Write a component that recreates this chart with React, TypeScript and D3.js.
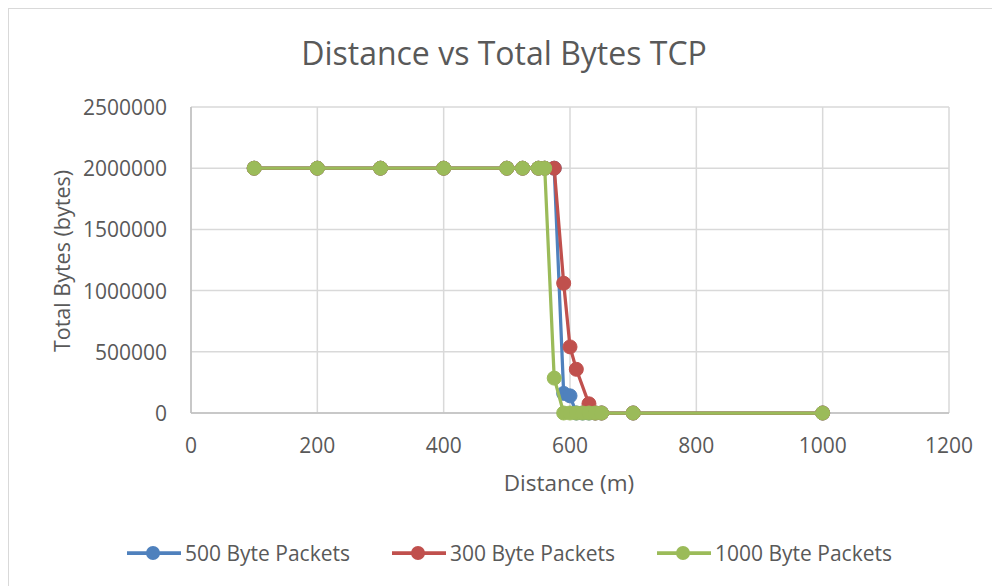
import React from 'react';
import * as d3 from 'd3';

// distances (m) shared by all three series; null = no sample at that distance
const distance = [100, 200, 300, 400, 500, 525, 550, 560, 575, 590, 600, 610, 620, 630, 640, 650, 700, 1000];
const bytes500 = [2000000, 2000000, 2000000, 2000000, 2000000, 2000000, 2000000, 2000000, 2000000, 160000, 140000, 0, 0, 0, 0, 0, 0, 0];
const bytes300 = [2000000, 2000000, 2000000, 2000000, 2000000, 2000000, 2000000, 2000000, 2000000, 1060000, 540000, 357000, null, 75000, 0, 0, 0, 0];
const bytes1000 = [2000000, 2000000, 2000000, 2000000, 2000000, 2000000, 2000000, 2000000, 285000, 0, 0, 0, 0, 0, 0, 0, 0, 0];

const seriesNames = ['500 Byte Packets', '300 Byte Packets', '1000 Byte Packets'];
const seriesColors = ['#4f81bd', '#c0504d', '#9bbb59'];
const xTicks = [0, 200, 400, 600, 800, 1000, 1200];
const yTicks = [0, 500000, 1000000, 1500000, 2000000, 2500000];

const FONT = '"Open Sans", sans-serif';
const TEXT = '#595959';
const GRID = '#d9d9d9';

const App = () => {
  const width = 992;
  const height = 586;
  const plot = { left: 191, right: 949, top: 107, bottom: 413 };

  const x = d3.scaleLinear().domain([0, 1200]).range([plot.left, plot.right]);
  const y = d3.scaleLinear().domain([0, 2500000]).range([plot.bottom, plot.top]);

  const allSeries = [bytes500, bytes300, bytes1000].map((vals, i) => ({
    name: seriesNames[i],
    color: seriesColors[i],
    points: distance
      .map((d, j) => ({ d, v: vals[j] }))
      .filter(p => p.v !== null) as { d: number; v: number }[],
  }));

  const line = d3.line<{ d: number; v: number }>()
    .x(p => x(p.d))
    .y(p => y(p.v));

  // legend item positions (line start)
  const legendX = [127, 392, 657];
  const legendY = 553;

  return (
    <svg
      width={width}
      height={height}
      style={{ position: 'absolute', left: 0, top: 0, background: '#fff' }}
      fontFamily={FONT}
    >
      <rect x={8.5} y={8.5} width={1000} height={600} fill="#fff" stroke={GRID} />

      <text x={504} y={52} textAnchor="middle" dominantBaseline="central" fontSize={32} fill={TEXT}>
        Distance vs Total Bytes TCP
      </text>

      {/* grid */}
      {yTicks.map(t => (
        <line key={'gy' + t} x1={plot.left} x2={plot.right} y1={y(t)} y2={y(t)} stroke={GRID} strokeWidth={1.5} />
      ))}
      {xTicks.map(t => (
        <line key={'gx' + t} x1={x(t)} x2={x(t)} y1={plot.top} y2={plot.bottom} stroke={GRID} strokeWidth={1.5} />
      ))}
      <line x1={plot.left} x2={plot.right} y1={plot.bottom} y2={plot.bottom} stroke="#bfbfbf" strokeWidth={1.5} />
      <line x1={plot.left} x2={plot.left} y1={plot.top} y2={plot.bottom} stroke="#bfbfbf" strokeWidth={1.5} />

      {/* tick labels */}
      {yTicks.map(t => (
        <text key={'ly' + t} x={167} y={y(t)} textAnchor="end" dominantBaseline="central" fontSize={21} fill={TEXT}>
          {t}
        </text>
      ))}
      {xTicks.map(t => (
        <text key={'lx' + t} x={x(t)} y={445} textAnchor="middle" dominantBaseline="central" fontSize={21} fill={TEXT}>
          {t}
        </text>
      ))}

      <text x={569} y={482} textAnchor="middle" dominantBaseline="central" fontSize={22.5} fill={TEXT}>
        Distance (m)
      </text>
      <text
        transform="translate(61,261) rotate(-90)"
        textAnchor="middle"
        dominantBaseline="central"
        fontSize={21.5}
        fill={TEXT}
      >
        Total Bytes (bytes)
      </text>

      {/* series */}
      {allSeries.map(s => (
        <g key={s.name}>
          <path d={line(s.points) || ''} fill="none" stroke={s.color} strokeWidth={3.25} strokeLinejoin="round" />
          {s.points.map((p, j) => (
            <circle key={j} cx={x(p.d)} cy={y(p.v)} r={7} fill={s.color} stroke={s.color} strokeWidth={1} />
          ))}
        </g>
      ))}

      {/* legend */}
      {allSeries.map((s, i) => (
        <g key={'lg' + s.name} transform={`translate(${legendX[i]},${legendY})`}>
          <line x1={0} x2={54} y1={0} y2={0} stroke={s.color} strokeWidth={3.75} />
          <circle cx={26} cy={0} r={7} fill={s.color} />
          <text x={58} y={0} dominantBaseline="central" fontSize={21} fill={TEXT}>
            {s.name}
          </text>
        </g>
      ))}
    </svg>
  );
};

export default App;
